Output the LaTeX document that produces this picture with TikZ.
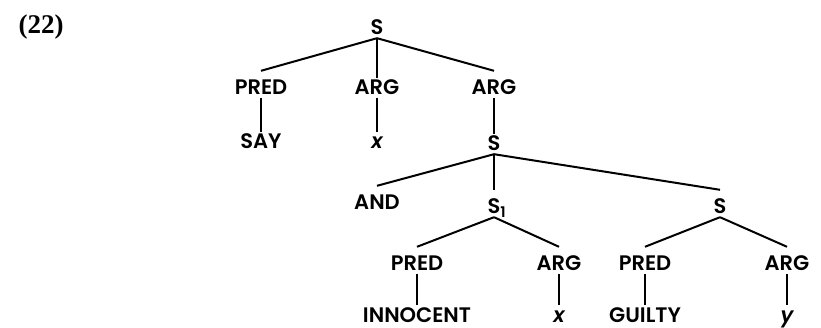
\documentclass[tikz,border=0pt]{standalone}
\usepackage{fontspec}
\setmainfont{Poppins}[UprightFont={* SemiBold}, ItalicFont={* SemiBold Italic}]
\newfontfamily\numfont{Liberation Serif}

\begin{document}
\begin{tikzpicture}[x=1pt, y=-1pt,
    lbl/.style={inner xsep=0pt, inner ysep=3pt, text height=14pt, text depth=0pt, font=\fontsize{21}{24}\selectfont},
    branch/.style={line width=2pt}]
    \useasboundingbox (0,0) rectangle (821,328);

    % Example number
    \node[font=\numfont\bfseries\fontsize{27}{29}\selectfont] (num) at (41,27) {(22)};

    % Top level
    \node[lbl] (s0) at (377,28) {S};
    \node[lbl] (pred1) at (261,88) {PRED};
    \node[lbl] (arg1) at (377,88) {ARG};
    \node[lbl] (arg2) at (494,88) {ARG};
    \node[lbl] (say) at (261,142) {SAY};
    \node[lbl] (x1) at (377,142) {\itshape x};
    \node[lbl] (s2) at (494,144) {S};

    % Conjunction
    \node[lbl] (and) at (377,203) {AND};
    \node[lbl] (s1) at (497,207) {S\textsubscript{1}};
    \node[lbl] (s3) at (720,207) {S};

    % Lower clauses
    \node[lbl] (pred2) at (417,264) {PRED};
    \node[lbl] (arg3) at (559,264) {ARG};
    \node[lbl] (pred3) at (645,264) {PRED};
    \node[lbl] (arg4) at (787,264) {ARG};
    \node[lbl] (innocent) at (417,315) {INNOCENT};
    \node[lbl] (x2) at (559,315) {\itshape x};
    \node[lbl] (guilty) at (645,315) {GUILTY};
    \node[lbl] (y) at (787,315) {\itshape y};

    % Branches
    \draw[branch] (s0.south) -- ([yshift=7pt]pred1.north);
    \draw[branch] (s0.south) -- (arg1.north);
    \draw[branch] (s0.south) -- ([yshift=7pt]arg2.north);
    \draw[branch] (pred1) -- (say);
    \draw[branch] (arg1) -- (x1);
    \draw[branch] (arg2) -- (s2);
    \draw[branch] (s2.south) -- ([yshift=7pt]and.north);
    \draw[branch] (s2.south) -- ([xshift=-3pt,yshift=7pt]s1.north);
    \draw[branch] (s2.south) -- ([yshift=7pt]s3.north);
    \draw[branch] ([xshift=-3pt]s1.south) -- ([yshift=7pt]pred2.north);
    \draw[branch] ([xshift=-3pt]s1.south) -- ([yshift=7pt]arg3.north);
    \draw[branch] (s3.south) -- ([yshift=7pt]pred3.north);
    \draw[branch] (s3.south) -- ([yshift=7pt]arg4.north);
    \draw[branch] (pred2) -- (innocent);
    \draw[branch] (arg3) -- (x2);
    \draw[branch] (pred3) -- (guilty);
    \draw[branch] (arg4) -- (y);
\end{tikzpicture}
\end{document}
